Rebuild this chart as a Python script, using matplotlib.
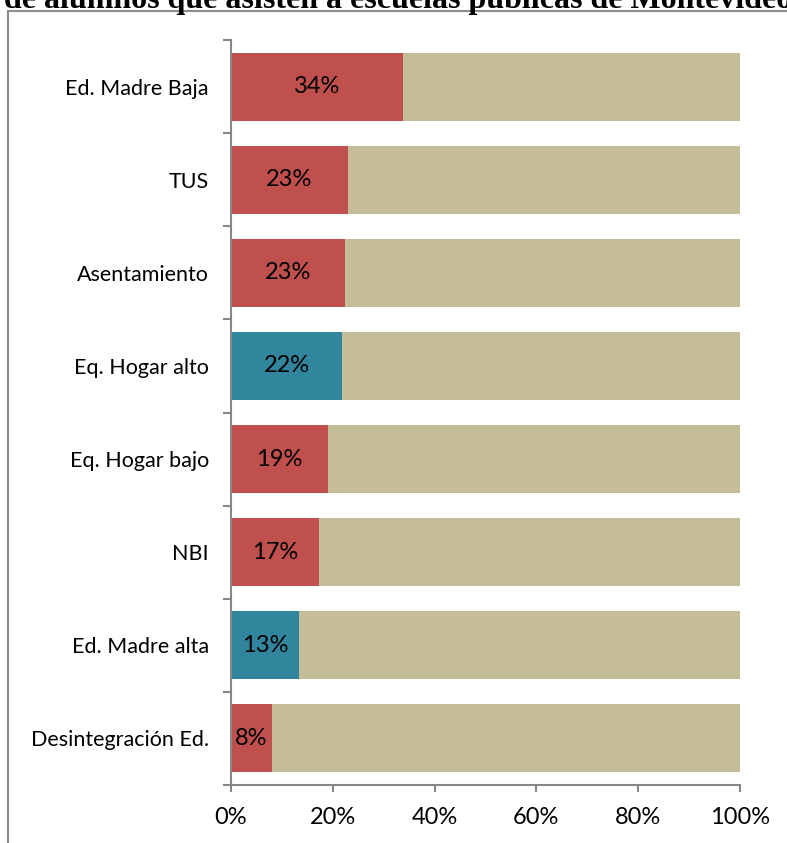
import matplotlib.pyplot as plt
from matplotlib.lines import Line2D

plt.rcParams['font.family'] = ['Lato', 'DejaVu Sans']

categories = ['Desintegración Ed.', 'Ed. Madre alta', 'NBI', 'Eq. Hogar bajo',
              'Eq. Hogar alto', 'Asentamiento', 'TUS', 'Ed. Madre Baja']
shares = [0.081, 0.134, 0.173, 0.190, 0.218, 0.224, 0.230, 0.338]
labels = ['8%', '13%', '17%', '19%', '22%', '23%', '23%', '34%']
highlight = [False, True, False, False, True, False, False, False]

red = '#C0504D'
teal = '#31859C'
tan = '#C4BD97'
grey = '#868686'

W, H = 787, 843
fig = plt.figure(figsize=(W / 100, H / 100), dpi=100)
ax = fig.add_axes([231 / W, 1 - 785 / H, (740 - 231) / W, (785 - 40) / H])

ypos = list(range(len(categories)))
colors = [teal if h else red for h in highlight]
rest = [1 - s for s in shares]

ax.barh(ypos, shares, height=0.73, color=colors, edgecolor='none')
ax.barh(ypos, rest, left=shares, height=0.73, color=tan, edgecolor='none')

for y, s, lab in zip(ypos, shares, labels):
    ax.text(s / 2, y, lab, ha='center', va='center', fontsize=17, color='black')

ax.set_xlim(0, 1)
ax.set_ylim(-0.5, len(categories) - 0.5)
ax.set_xticks([0, 0.2, 0.4, 0.6, 0.8, 1.0])
ax.set_xticklabels(['0%', '20%', '40%', '60%', '80%', '100%'], fontsize=17)
ax.set_yticks(ypos)
ax.set_yticklabels(categories, fontsize=15.5)
ax.tick_params(axis='y', length=0, pad=16)
ax.tick_params(axis='x', length=5, color=grey, width=1.5, pad=11)
ax.set_yticks([i - 0.5 for i in range(len(categories) + 1)], minor=True)
ax.tick_params(axis='y', which='minor', length=6, color=grey, width=1.5)

for side in ['top', 'right']:
    ax.spines[side].set_visible(False)
for side in ['left', 'bottom']:
    ax.spines[side].set_color(grey)
    ax.spines[side].set_linewidth(1.5)

# chart frame, only the top and left edges show
fig.add_artist(Line2D([8 / W, 8 / W], [0, 1 - 11 / H], transform=fig.transFigure,
                      color='#8c8c8c', lw=1.5))
fig.add_artist(Line2D([8 / W, 1], [1 - 11 / H, 1 - 11 / H], transform=fig.transFigure,
                      color='#8c8c8c', lw=1.5))

fig.text(4 / W, 1 - 8 / H, 'de alumnos que asisten a escuelas públicas de Montevideo',
         fontsize=23, fontweight='bold', family=['Liberation Serif', 'DejaVu Serif'],
         ha='left', va='baseline')

fig.savefig('out.png', dpi=100)
